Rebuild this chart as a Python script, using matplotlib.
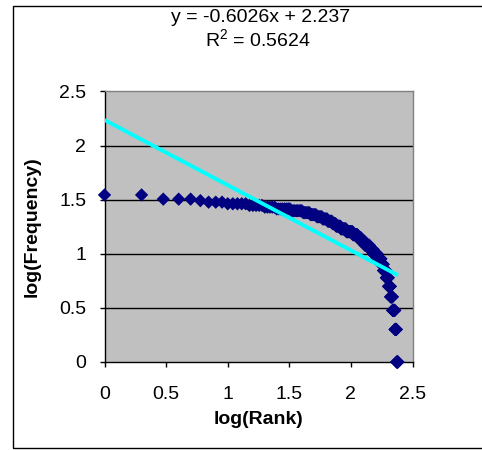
import numpy as np
import matplotlib
matplotlib.use("Agg")
import matplotlib.pyplot as plt
from matplotlib.patches import Rectangle

# Frequency levels (descending) and how many ranked items share each level
freq_levels = [35, 32, 31, 30, 29, 28, 27, 26, 25, 24, 23, 22, 21, 20, 19, 18, 17,
               16, 15, 14, 13, 12, 11, 10, 9, 8, 7, 6, 5, 4, 3, 2, 1]
rank_counts = [2, 3, 1, 3, 5, 5, 5, 8, 8, 6, 6, 6, 6, 6, 5, 7, 9,
               12, 10, 8, 8, 12, 10, 12, 12, 8, 10, 8, 8, 8, 10, 7, 7]

# Trendline shown on the chart
slope = -0.6026
intercept = 2.237
eq_text = "y = -0.6026x + 2.237"
r2_text = "R$^2$ = 0.5624"

x_ticks = [0, 0.5, 1, 1.5, 2, 2.5]
y_ticks = [0, 0.5, 1, 1.5, 2, 2.5]
x_tick_labels = ["0", "0.5", "1", "1.5", "2", "2.5"]
y_tick_labels = ["0", "0.5", "1", "1.5", "2", "2.5"]

frequency = np.repeat(freq_levels, rank_counts)
rank = np.arange(1, len(frequency) + 1)
log_rank = np.log10(rank)
log_freq = np.log10(frequency)

plt.rcParams['font.family'] = ['Liberation Sans', 'DejaVu Sans']
plt.rcParams['mathtext.fontset'] = 'custom'
plt.rcParams['mathtext.rm'] = 'Liberation Sans'

W, H = 482, 450
fig = plt.figure(figsize=(W / 100, H / 100), dpi=100)
fig.patch.set_facecolor('white')

# outer chart border
fig.patches.append(Rectangle((12.5 / W, (H - 447.5) / H), (W - 12.5 + 5) / W, (447.5 - 5.5) / H,
                             transform=fig.transFigure, fill=False, edgecolor='black',
                             linewidth=1.0, clip_on=False))

left, right = 104.5, 412.5
top, bottom = 91.5, 362.0
ax = fig.add_axes([left / W, (H - bottom) / H, (right - left) / W, (bottom - top) / H])
ax.set_facecolor('#C0C0C0')

ax.set_xlim(0, 2.5)
ax.set_ylim(0, 2.5)

for yv in y_ticks[1:-1]:
    ax.axhline(yv, color='black', linewidth=1.0, zorder=1)

ax.scatter(log_rank, log_freq, marker='D', s=6.8 ** 2, color='#000080',
           edgecolors='none', zorder=3, clip_on=False)

xl = np.array([log_rank.min(), log_rank.max()])
ax.plot(xl, slope * xl + intercept, color='#00FFFF', linewidth=2.8, zorder=4,
        solid_capstyle='butt')

for s in ['top', 'right']:
    ax.spines[s].set_color('#808080')
    ax.spines[s].set_linewidth(1.0)
for s in ['left', 'bottom']:
    ax.spines[s].set_color('black')
    ax.spines[s].set_linewidth(1.0)

ax.set_xticks(x_ticks)
ax.set_xticklabels(x_tick_labels)
ax.set_yticks(y_ticks)
ax.set_yticklabels(y_tick_labels)
ax.tick_params(axis='x', direction='out', length=3.6, width=1, pad=13.5, labelsize=14)
ax.tick_params(axis='y', direction='out', length=3.6, width=1, pad=9.5, labelsize=14)

ax.set_xlabel("log(Rank)", fontsize=14, fontweight='bold', labelpad=6)
ax.set_ylabel("log(Frequency)", fontsize=14, fontweight='bold', labelpad=13)

fig.text(261 / W, 1 - 22.5 / H, eq_text, ha='center', va='baseline', fontsize=14)
fig.text(258 / W, 1 - 47.5 / H, r2_text, ha='center', va='baseline', fontsize=14)

fig.savefig("out.png", dpi=100, facecolor='white')
